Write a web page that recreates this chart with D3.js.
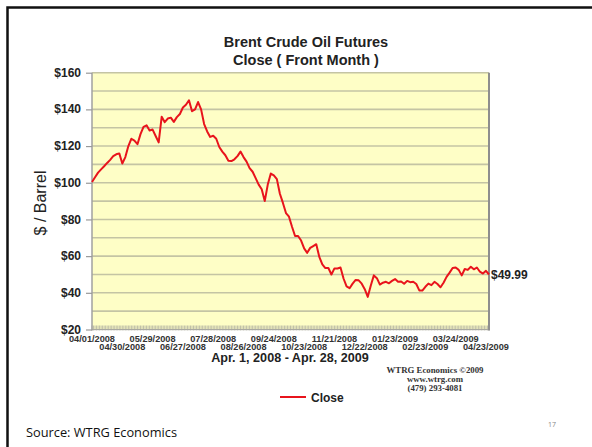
<!DOCTYPE html>
<html>
<head>
<meta charset="utf-8">
<script src="https://cdn.jsdelivr.net/npm/d3@7"></script>
<style>
  html, body { margin: 0; padding: 0; background: #fff; }
  svg { display: block; }
</style>
</head>
<body>
<svg id="chart" width="592" height="447"></svg>
<script>
// Brent front-month closes, one value every second trading session
const closes = [
  100.4, 103, 105.5, 107.3, 109, 110.8, 112.5, 114.5, 115.5, 116,
  110.5, 114, 120, 124, 123, 121, 126.5, 130.5, 131.3, 128.5,
  129, 125.5, 122, 136, 133, 135, 135.5, 133.2, 135.8, 137.5,
  141, 142.5, 145, 139, 140, 144, 140, 132, 128, 125,
  125.6, 124, 119.5, 117, 115, 112, 111.8, 112.8, 114.5, 117,
  114, 111.5, 108, 106, 102.5, 99, 96.5, 90, 99, 105,
  104, 102, 94, 89, 83.5, 81.5, 76, 71, 71, 68.5,
  64.2, 61.8, 64.5, 65.5, 66.5, 59.6, 55.5, 53.5, 53.5, 50,
  53.3, 53.3, 53.8, 47.8, 43.5, 42.5, 45, 47, 46.8, 45,
  42, 37.8, 44, 49.5, 48, 44.5, 45.5, 46, 45.2, 46.5,
  47.5, 46, 46.2, 44.9, 46.5, 45.8, 46, 44.8, 41.3, 41.2,
  43.3, 45, 44.2, 46, 44.8, 43, 45.5, 48.7, 51, 53.5,
  53.8, 52.5, 49.5, 53, 52.5, 54.2, 52.8, 53.8, 51.5, 50.5,
  52, 49.99
];
const sessionStep = 2;          // sessions between stored closes
const tickEvery = 20;           // sessions between date labels
const dateLabels = [
  "04/01/2008", "04/30/2008", "05/29/2008", "06/27/2008", "07/28/2008",
  "08/26/2008", "09/24/2008", "10/23/2008", "11/21/2008", "12/22/2008",
  "01/23/2009", "02/23/2009", "03/24/2009", "04/23/2009"
];
const priceTicks = [20, 40, 60, 80, 100, 120, 140, 160];
const gridLevels = [30, 40, 50, 60, 70, 80, 90, 100, 110, 120, 130, 140, 150, 160];
const titleLines = ["Brent Crude Oil Futures", "Close ( Front Month )"];
const lastLabel = "$49.99";

const svg = d3.select("#chart");
const W = 592, H = 447;
const plot = { left: 92, right: 489, top: 72.7, bottom: 329.5 };
const sans = "'Liberation Sans', Arial, sans-serif";

svg.append("rect").attr("width", W).attr("height", H).attr("fill", "#fff");

// slide frame (top and left edges)
svg.append("path")
  .attr("d", `M7.5,${H} V7.5 H${W}`)
  .attr("fill", "none").attr("stroke", "#111").attr("stroke-width", 2.5);

const lastIndex = (closes.length - 1) * sessionStep;
const x = d3.scaleLinear().domain([0, lastIndex]).range([plot.left, plot.right]);
const y = d3.scaleLinear().domain([20, 160]).range([plot.bottom, plot.top]);

// plot background
svg.append("rect")
  .attr("x", plot.left).attr("y", plot.top)
  .attr("width", plot.right - plot.left).attr("height", plot.bottom - plot.top)
  .attr("fill", "#fefec6");

// horizontal grid
svg.append("g").selectAll("line").data(gridLevels).join("line")
  .attr("x1", plot.left).attr("x2", plot.right)
  .attr("y1", d => y(d)).attr("y2", d => y(d))
  .attr("stroke", "#c4c4a4").attr("stroke-width", 1.6);

// hatched session ticks along the bottom
svg.append("g").selectAll("line").data(d3.range(0, lastIndex + 1)).join("line")
  .attr("x1", d => x(d)).attr("x2", d => x(d))
  .attr("y1", plot.bottom - 4).attr("y2", plot.bottom + 1)
  .attr("stroke", "#b0b0a0").attr("stroke-width", 0.8);
svg.append("line")
  .attr("x1", plot.left).attr("x2", plot.right)
  .attr("y1", plot.bottom).attr("y2", plot.bottom)
  .attr("stroke", "#a8a8a0").attr("stroke-width", 1);

// plot side borders
svg.append("line").attr("x1", plot.left).attr("x2", plot.left)
  .attr("y1", plot.top).attr("y2", plot.bottom + 1)
  .attr("stroke", "#a0a0a0").attr("stroke-width", 1.5);
svg.append("line").attr("x1", plot.right).attr("x2", plot.right)
  .attr("y1", plot.top).attr("y2", plot.bottom + 1)
  .attr("stroke", "#8e8e8e").attr("stroke-width", 2);

// y axis
const yAxis = d3.axisLeft(y).tickValues(priceTicks)
  .tickFormat(d => "$" + d).tickSize(6).tickPadding(5);
const gy = svg.append("g").attr("transform", `translate(${plot.left},0)`).call(yAxis);
gy.select(".domain").remove();
gy.selectAll(".tick line").attr("stroke", "#999").attr("stroke-width", 1.2);
gy.selectAll(".tick text")
  .attr("font-family", sans).attr("font-size", 12).attr("font-weight", "bold")
  .attr("dy", "0.3em")
  .attr("fill", "#222");

// x axis date labels, staggered over two rows
const tickIdx = dateLabels.map((_, i) => i * tickEvery);
svg.append("g").selectAll("text").data(tickIdx).join("text")
  .attr("x", d => x(d))
  .attr("y", (d, i) => i % 2 === 0 ? 342.3 : 350.2)
  .attr("text-anchor", "middle")
  .attr("font-family", sans).attr("font-size", 9.2).attr("font-weight", "bold")
  .attr("fill", "#333")
  .text((d, i) => dateLabels[i]);

// price line
const line = d3.line()
  .x((d, i) => x(i * sessionStep))
  .y(d => y(d));
svg.append("path").datum(closes)
  .attr("d", line)
  .attr("fill", "none").attr("stroke", "#e8141c")
  .attr("stroke-width", 2).attr("stroke-linejoin", "round");

// last value label
svg.append("text")
  .attr("x", plot.right + 2).attr("y", y(closes[closes.length - 1]) + 4.3)
  .attr("font-family", sans).attr("font-size", 12).attr("font-weight", "bold")
  .attr("fill", "#222").text(lastLabel);

// titles
svg.append("g").selectAll("text").data(titleLines).join("text")
  .attr("x", 306).attr("y", (d, i) => 47 + i * 18)
  .attr("text-anchor", "middle")
  .attr("font-family", sans).attr("font-size", 14.5).attr("font-weight", "bold")
  .attr("fill", "#222").text(d => d);

// y axis title
svg.append("text")
  .attr("transform", "translate(46,203) rotate(-90)")
  .attr("text-anchor", "middle")
  .attr("font-family", sans).attr("font-size", 16)
  .attr("fill", "#222").text("$ / Barrel");

// date range caption
svg.append("text")
  .attr("x", 290).attr("y", 361.8)
  .attr("text-anchor", "middle")
  .attr("font-family", sans).attr("font-size", 12.6).attr("font-weight", "bold")
  .attr("fill", "#222").text("Apr. 1, 2008 - Apr. 28, 2009");

// publisher note
const serif = "'Liberation Serif', 'Times New Roman', serif";
svg.append("g").selectAll("text")
  .data(["WTRG Economics  \u00A92009", "www.wtrg.com", "(479) 293-4081"]).join("text")
  .attr("x", 435).attr("y", (d, i) => 372.5 + i * 9.3)
  .attr("text-anchor", "middle")
  .attr("font-family", serif).attr("font-size", 8.8).attr("font-weight", "bold")
  .attr("fill", "#333").text(d => d);

// legend
svg.append("line").attr("x1", 280).attr("x2", 306).attr("y1", 397).attr("y2", 397)
  .attr("stroke", "#e8141c").attr("stroke-width", 2);
svg.append("text").attr("x", 311).attr("y", 401.5)
  .attr("font-family", sans).attr("font-size", 12).attr("font-weight", "bold")
  .attr("fill", "#222").text("Close");

// slide footer
svg.append("text").attr("x", 26).attr("y", 437)
  .attr("font-family", "'Open Sans', 'Noto Sans', sans-serif").attr("font-size", 12.8)
  .attr("fill", "#111").text("Source: WTRG Economics");
svg.append("text").attr("x", 548).attr("y", 427)
  .attr("font-family", "'Open Sans', 'Noto Sans', sans-serif").attr("font-size", 7)
  .attr("fill", "#888").text("17");
</script>
</body>
</html>
